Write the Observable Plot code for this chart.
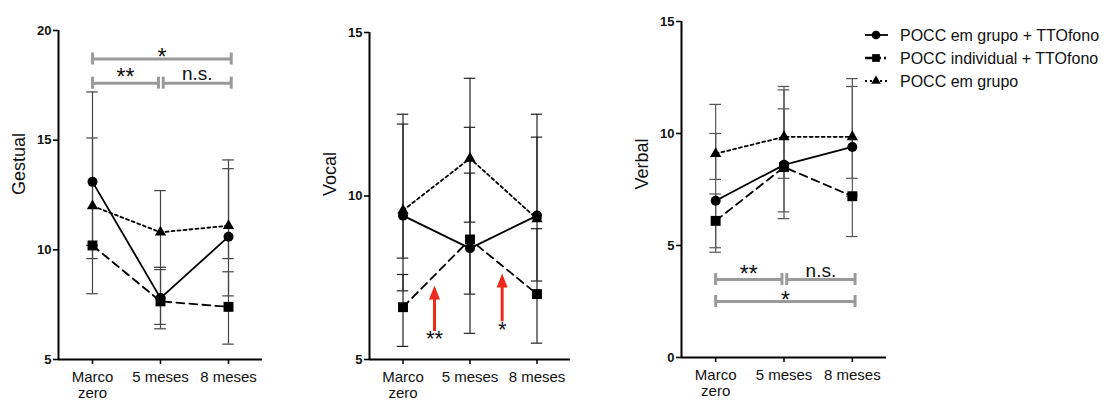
<!DOCTYPE html>
<html><head><meta charset="utf-8">
<script src="https://cdn.jsdelivr.net/npm/d3@7"></script>
<script src="https://cdn.jsdelivr.net/npm/@observablehq/plot@0.6"></script>
<style>
body{margin:0;background:#fff;font-family:"Liberation Sans",Arial,sans-serif;}
#wrap{position:relative;width:1104px;height:403px;overflow:hidden;background:#fff;}
#wrap > svg, #wrap > figure{position:absolute;top:0;margin:0;}
</style></head><body><div id="wrap"></div>
<script>
// ---------- data ----------
const categories = ["Marco\nzero", "5 meses", "8 meses"];
const seriesNames = ["POCC em grupo + TTOfono", "POCC individual + TTOfono", "POCC em grupo"];

// rows = series (grupo+TTOfono, individual+TTOfono, grupo); columns = categories
const gestualMeans = [[13.1, 7.8, 10.6], [10.2, 7.65, 7.4], [12.0, 10.8, 11.1]];
const gestualLow   = [[8.0, 6.6, 9.6], [10.2, 6.4, 5.7], [9.6, 9.2, 7.9]];
const gestualHigh  = [[17.2, 9.1, 13.7], [10.2, 9.2, 9.0], [15.1, 12.7, 14.1]];

const vocalMeans = [[9.4, 8.4, 9.4], [6.6, 8.67, 7.0], [9.56, 11.15, 9.3]];
const vocalLow   = [[8.1, 5.8, 7.4], [5.4, 7.0, 5.5], [7.1, 9.2, 9.3]];
const vocalHigh  = [[12.5, 10.7, 11.8], [7.6, 12.1, 9.0], [12.2, 13.6, 12.5]];

const verbalMeans = [[7.0, 8.6, 9.4], [6.1, 8.5, 7.2], [9.1, 9.85, 9.85]];
const verbalLow   = [[4.9, 6.5, 8.0], [4.7, 6.2, 5.4], [7.95, 8.0, 7.3]];
const verbalHigh  = [[10.0, 11.1, 12.1], [7.3, 11.95, 7.2], [11.3, 12.1, 12.45]];

// significance brackets (category index units, value units)
const gestualSigFrom = [0, 0, 1.04];
const gestualSigTo   = [2.04, 0.97, 2.04];
const gestualSigY    = [18.7, 17.6, 17.6];
const gestualSigText = ["*", "**", "n.s."];

const verbalSigFrom = [0, 1.04, 0];
const verbalSigTo   = [0.97, 2.04, 2.04];
const verbalSigY    = [3.48, 3.48, 2.5];
const verbalSigText = ["**", "n.s.", "*"];

// red arrows in Vocal panel
const vocalArrowX    = [0.47, 1.48];
const vocalArrowFrom = [6.1, 6.4];
const vocalArrowTo   = [7.26, 7.63];
const vocalArrowText = ["**", "*"];
const vocalArrowTextY = [5.8, 6.1];

// ---------- styles ----------
const symbols = ["circle", "square", "triangle"];
const radii = [5, 5.6, 4.2];
const dashes = [null, "8,5", "3,3"];
const font = "'Liberation Sans', Arial, sans-serif";

const arrowHead = {
  draw(ctx) { ctx.moveTo(0, 0); ctx.lineTo(5.5, 14); ctx.lineTo(-5.5, 14); ctx.closePath(); }
};

function panel(o) {
  const rows = [];
  o.means.forEach((arr, s) => arr.forEach((v, i) =>
    rows.push({s, x: i, y: v, lo: o.low[s][i], hi: o.high[s][i]})));
  const caps = rows.flatMap(d => [{x: d.x, y: d.lo}, {x: d.x, y: d.hi}]);
  const capW = 0.085;
  const plotH = o.height - o.marginTop - o.marginBottom;
  const h = 6 * (o.yDomain[1] - o.yDomain[0]) / plotH;
  const marks = [
    Plot.axisY({ticks: o.yTicks, tickSize: 5, tickPadding: 2, fontSize: 13, fontWeight: "bold", label: null, stroke: "black", strokeWidth: 1.6}),
    Plot.axisX({ticks: [0, 1, 2], tickFormat: i => categories[i], tickSize: 5, tickPadding: 5, fontSize: 15, lineHeight: 1.13, label: null, strokeWidth: 1.6}),
    Plot.text([o.label], {frameAnchor: "left", rotate: -90, dx: -39, fontSize: 18, fill: "#111"}),
    Plot.ruleX([-0.5], {stroke: "black", strokeWidth: 2}),
    Plot.ruleY([o.yDomain[0]], {stroke: "black", strokeWidth: 2}),
    Plot.ruleX(rows, {x: "x", y1: "lo", y2: "hi", stroke: o.barColor, strokeWidth: 1.2}),
    Plot.ruleY(caps, {y: "y", x1: d => d.x - capW, x2: d => d.x + capW, stroke: o.barColor, strokeWidth: 1.2})
  ];
  if (o.sig) {
    const br = o.sig.text.map((t, k) => ({t, x1: o.sig.from[k], x2: o.sig.to[k], y: o.sig.y[k]}));
    const ends = br.flatMap(d => [{x: d.x1, y: d.y}, {x: d.x2, y: d.y}]);
    marks.push(
      Plot.ruleY(br, {y: "y", x1: "x1", x2: "x2", stroke: "#9a9a9a", strokeWidth: 3}),
      Plot.ruleX(ends, {x: "x", y1: d => d.y - h, y2: d => d.y + h, stroke: "#9a9a9a", strokeWidth: 3}),
      Plot.text(br.filter(d => d.t === "*"), {x: d => (d.x1 + d.x2) / 2, y: "y", text: "t", lineAnchor: "bottom", dy: 6, fontSize: 23, fill: "#111"}),
      Plot.text(br.filter(d => d.t === "**"), {x: d => (d.x1 + d.x2) / 2, y: "y", text: "t", lineAnchor: "bottom", dy: 2, fontSize: 23, fill: "#111"}),
      Plot.text(br.filter(d => d.t === "n.s."), {x: d => (d.x1 + d.x2) / 2, y: "y", text: "t", lineAnchor: "bottom", dy: -3, fontSize: 19, fill: "#111"})
    );
  }
  if (o.arrows) {
    const ar = o.arrows.x.map((x, k) => ({x, y1: o.arrows.from[k], y2: o.arrows.to[k], t: o.arrows.text[k], ty: o.arrows.textY[k]}));
    marks.push(
      Plot.ruleX(ar, {x: "x", y1: "y1", y2: "y2", stroke: "#ee2a1b", strokeWidth: 3, dy: 8}),
      Plot.dot(ar, {x: "x", y: "y2", symbol: arrowHead, fill: "#ee2a1b", stroke: "none"}),
      Plot.text(ar, {x: "x", y: "ty", text: "t", lineAnchor: "middle", dy: 6, fontSize: 22, fill: "#111"})
    );
  }
  for (let s = 0; s < 3; s++) {
    const d = rows.filter(r => r.s === s);
    marks.push(Plot.line(d, {x: "x", y: "y", stroke: "black", strokeWidth: 1.8, strokeDasharray: dashes[s]}));
  }
  for (let s = 0; s < 3; s++) {
    const d = rows.filter(r => r.s === s);
    marks.push(Plot.dot(d, {x: "x", y: "y", symbol: symbols[s], r: radii[s], fill: "black", stroke: "none"}));
  }
  const svg = Plot.plot({
    width: o.width, height: o.height,
    marginLeft: o.marginLeft, marginRight: o.marginRight,
    marginTop: o.marginTop, marginBottom: o.marginBottom,
    style: {fontFamily: font, color: "#111", background: "transparent", overflow: "visible"},
    x: {domain: [-0.5, 2.5]},
    y: {domain: o.yDomain},
    marks
  });
  svg.style.left = o.left + "px";
  return svg;
}

const wrap = document.getElementById("wrap");
wrap.appendChild(panel({
  left: 0, width: 270, height: 403, marginLeft: 58, marginRight: 8, marginTop: 30, marginBottom: 44,
  yDomain: [5, 20], yTicks: [5, 10, 15, 20], label: "Gestual", barColor: "#444",
  means: gestualMeans, low: gestualLow, high: gestualHigh,
  sig: {from: gestualSigFrom, to: gestualSigTo, y: gestualSigY, text: gestualSigText}
}));
wrap.appendChild(panel({
  left: 300, width: 280, height: 403, marginLeft: 69, marginRight: 10, marginTop: 32, marginBottom: 44,
  yDomain: [5, 15], yTicks: [5, 10, 15], label: "Vocal", barColor: "#222",
  means: vocalMeans, low: vocalLow, high: vocalHigh,
  arrows: {x: vocalArrowX, from: vocalArrowFrom, to: vocalArrowTo, text: vocalArrowText, textY: vocalArrowTextY}
}));
wrap.appendChild(panel({
  left: 620, width: 275, height: 403, marginLeft: 61, marginRight: 9, marginTop: 21, marginBottom: 46,
  yDomain: [0, 15], yTicks: [0, 5, 10, 15], label: "Verbal", barColor: "#555",
  means: verbalMeans, low: verbalLow, high: verbalHigh,
  sig: {from: verbalSigFrom, to: verbalSigTo, y: verbalSigY, text: verbalSigText}
}));

// ---------- legend ----------
const leg = d3.create("svg").attr("width", 254).attr("height", 80)
  .style("left", "850px").style("top", "20px").style("position", "absolute")
  .style("font-family", font);
seriesNames.forEach((name, s) => {
  const g = leg.append("g").attr("transform", `translate(0,${15 + s * 23})`);
  g.append("line").attr("x1", 15).attr("x2", 38).attr("y1", 0).attr("y2", 0)
    .attr("stroke", "black").attr("stroke-width", s === 1 ? 2.5 : 1.8)
    .attr("stroke-dasharray", s === 0 ? null : s === 1 ? "16,3,2,3" : "2,3");
  g.append("path").attr("transform", "translate(26,0)")
    .attr("d", d3.symbol(s === 0 ? d3.symbolCircle : s === 1 ? d3.symbolSquare : d3.symbolTriangle, s === 2 ? 40 : 60)())
    .attr("fill", "black");
  g.append("text").attr("x", 50).attr("y", 0).attr("dy", "0.35em")
    .attr("font-size", 16).attr("fill", "#111").text(name);
});
wrap.appendChild(leg.node());
</script>
</body></html>
